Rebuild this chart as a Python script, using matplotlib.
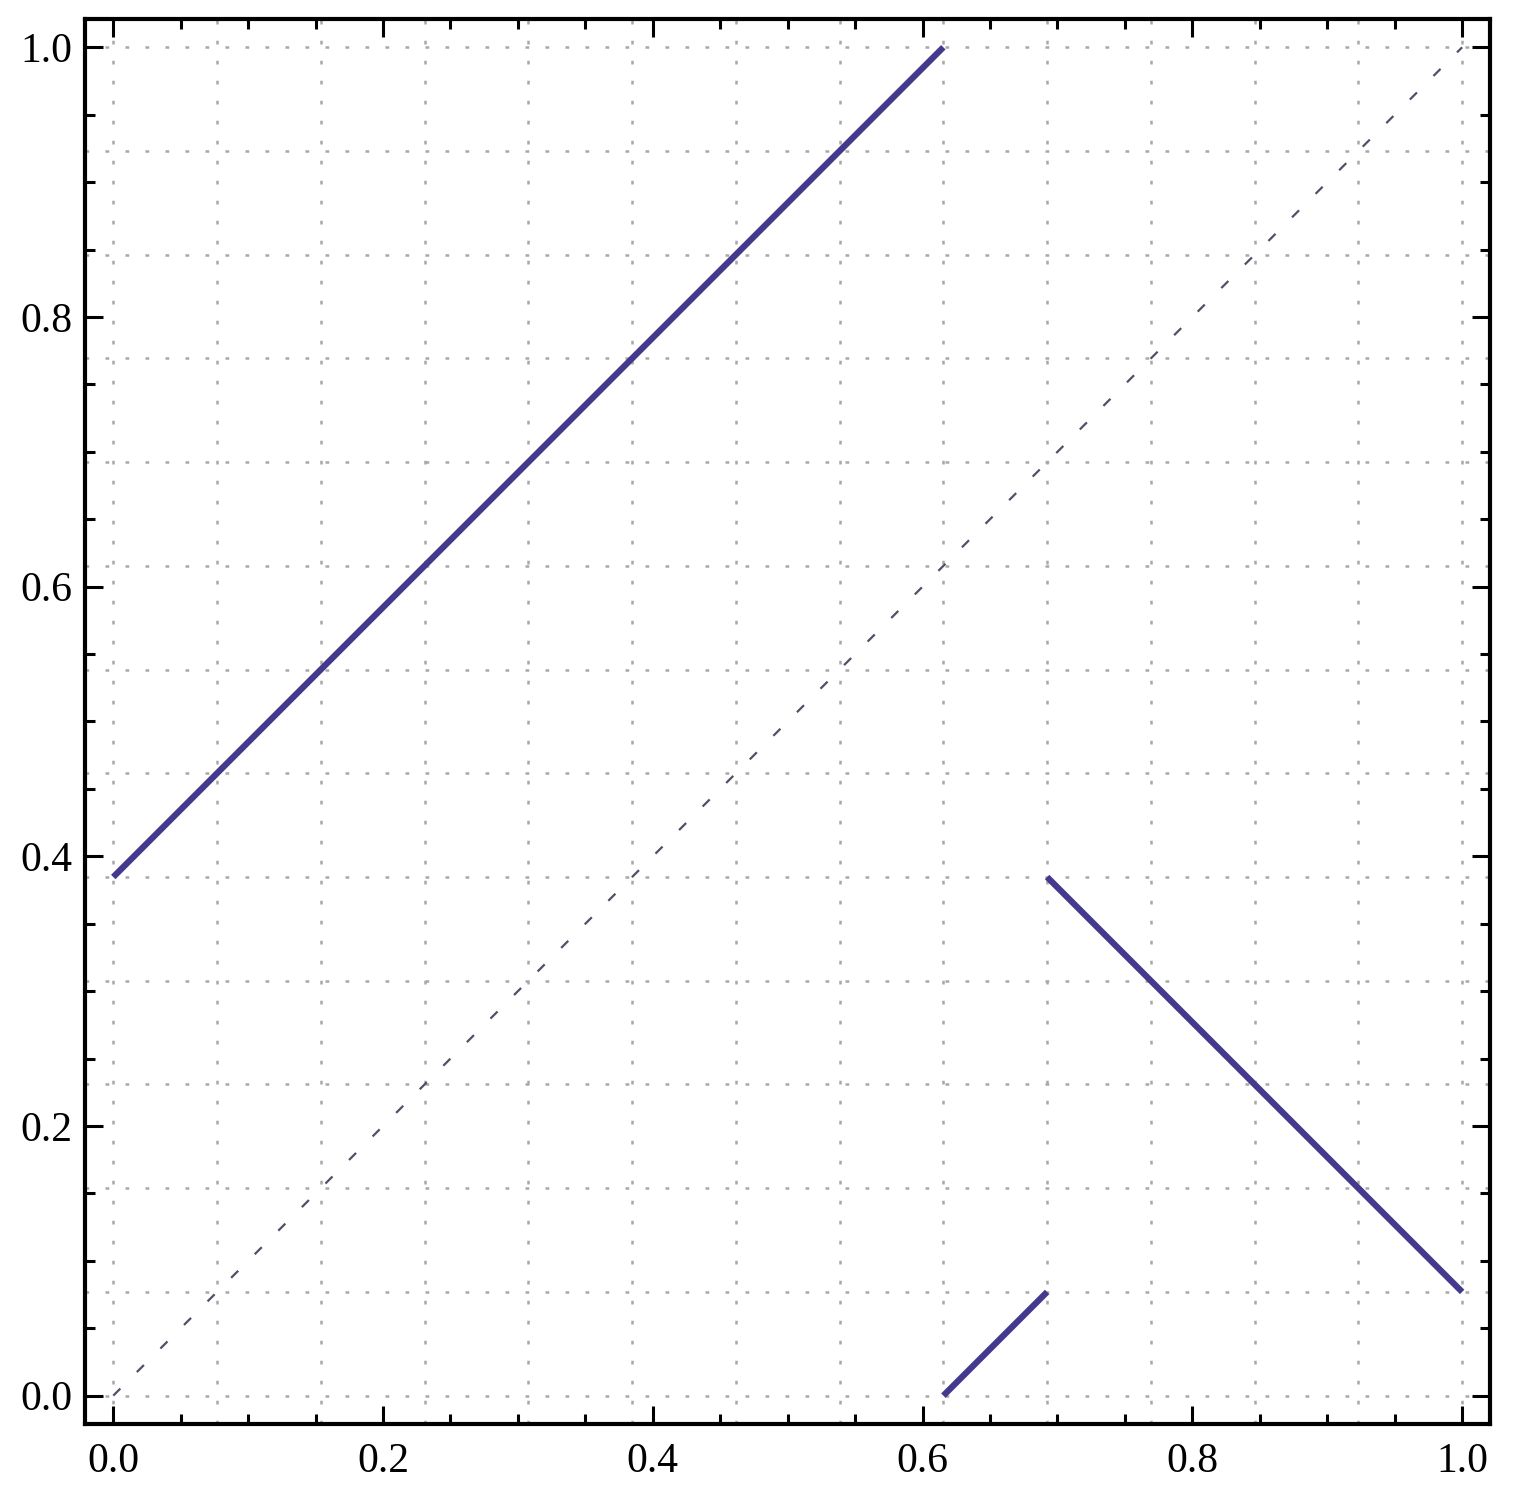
import numpy as np
import matplotlib
matplotlib.use("Agg")
import matplotlib.pyplot as plt
from matplotlib.ticker import MultipleLocator

# Piecewise map segments (x, y), multiples of 1/13
seg1_x = [0.0, 8/13]
seg1_y = [5/13, 1.0]
seg2_x = [8/13, 9/13]
seg2_y = [0.0, 1/13]
seg3_x = [9/13, 1.0]
seg3_y = [5/13, 1/13]
diag_x = [0.0, 1.0]
diag_y = [0.0, 1.0]
grid_vals = [k/13 for k in range(14)]
tick_labels = ["0.0", "0.2", "0.4", "0.6", "0.8", "1.0"]
tick_vals = [0.0, 0.2, 0.4, 0.6, 0.8, 1.0]

plt.rcParams['font.family'] = ['Liberation Serif', 'DejaVu Serif']

fig = plt.figure(figsize=(15.22, 14.92), dpi=100)
ax = fig.add_axes([0.0558, 0.0456, 0.9235, 0.9417])

for g in grid_vals:
    ax.axvline(g, color='#a8a8a8', lw=1.8, ls=(0, (1.5, 6.5)), zorder=1)
    ax.axhline(g, color='#a8a8a8', lw=1.8, ls=(0, (1.5, 6.5)), zorder=1)

ax.plot(diag_x, diag_y, color='#505066', lw=1.6, ls=(0, (4.5, 10.5)), zorder=2)
line_color = '#433a8e'
for xs, ys in [(seg1_x, seg1_y), (seg2_x, seg2_y), (seg3_x, seg3_y)]:
    ax.plot(xs, ys, color=line_color, lw=4.5, solid_capstyle='butt', zorder=3)

ax.set_xlim(-0.021, 1.021)
ax.set_ylim(-0.021, 1.021)
ax.set_xticks(tick_vals)
ax.set_xticklabels(tick_labels)
ax.set_yticks(tick_vals)
ax.set_yticklabels(tick_labels)
ax.xaxis.set_minor_locator(MultipleLocator(0.05))
ax.yaxis.set_minor_locator(MultipleLocator(0.05))
ax.tick_params(which='both', direction='in', top=True, right=True, width=2.2, color='black')
ax.tick_params(which='major', length=13, labelsize=30)
ax.tick_params(which='minor', length=7)
ax.tick_params(axis='x', which='major', pad=13)
ax.tick_params(axis='y', which='major', pad=9)
for s in ax.spines.values():
    s.set_linewidth(3)

fig.savefig('out.png', dpi=100)
